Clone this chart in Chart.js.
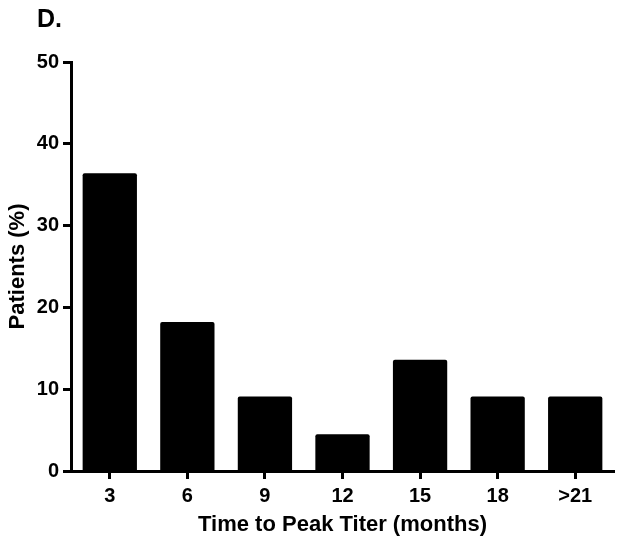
<!DOCTYPE html>
<html>
<head>
    <title>Time to Peak Titer</title>
    <script src="https://cdn.jsdelivr.net/npm/chart.js"></script>
    <style>
        html, body { margin: 0; padding: 0; background: #fff; }
        #wrap { width: 624px; height: 545px; position: relative; }
    </style>
</head>
<body>
    <div id="wrap"><canvas id="myChart"></canvas></div>
    <script>
        // data (percent of patients)
        var categories = ['3', '6', '9', '12', '15', '18', '>21'];
        var patients = [36.4, 18.2, 9.1, 4.5, 13.6, 9.1, 9.1];
        var yTicks = [0, 10, 20, 30, 40, 50];
        var panelLabel = 'D.';
        var xTitle = 'Time to Peak Titer (months)';
        var yTitle = 'Patients (%)';

        var fam = "'Liberation Sans', Arial, Helvetica, sans-serif";

        // draws the "D." panel letter top left
        var panelPlugin = {
            id: 'panelLabel',
            afterDraw: function (chart) {
                var c = chart.ctx;
                c.save();
                c.fillStyle = '#000';
                c.font = 'bold 25px ' + fam;
                c.textBaseline = 'alphabetic';
                c.fillText(panelLabel, 37, 27);
                c.restore();
            }
        };

        var ctx = document.getElementById('myChart').getContext('2d');
        var myChart = new Chart(ctx, {
            type: 'bar',
            data: {
                labels: categories,
                datasets: [{
                    label: 'Patients',
                    data: patients,
                    backgroundColor: '#000',
                    borderWidth: 0,
                    borderRadius: 2,
                    barPercentage: 0.7,
                    categoryPercentage: 1.0
                }]
            },
            options: {
                responsive: true,
                maintainAspectRatio: false,
                animation: false,
                layout: { padding: { top: 62, right: 10, bottom: 0, left: 0 } },
                plugins: {
                    legend: { display: false },
                    tooltip: { enabled: false }
                },
                scales: {
                    x: {
                        offset: true,
                        grid: {
                            display: true,
                            drawOnChartArea: false,
                            drawTicks: true,
                            tickLength: 8,
                            tickWidth: 3,
                            tickColor: '#000',
                            offset: false
                        },
                        border: { display: true, width: 3, color: '#000' },
                        ticks: {
                            color: '#000',
                            padding: 5,
                            font: { family: fam, size: 20, weight: 'bold' }
                        },
                        title: {
                            display: true,
                            text: xTitle,
                            color: '#000',
                            padding: { top: 0, bottom: 7 },
                            font: { family: fam, size: 22, weight: 'bold' }
                        },
                        afterFit: function (scale) { scale.height = 74; }
                    },
                    y: {
                        min: yTicks[0],
                        max: yTicks[yTicks.length - 1],
                        afterBuildTicks: function (scale) {
                            scale.ticks = yTicks.map(function (v) { return { value: v }; });
                        },
                        grid: {
                            display: true,
                            drawOnChartArea: false,
                            drawTicks: true,
                            tickLength: 8,
                            tickWidth: 3,
                            tickColor: '#000'
                        },
                        border: { display: true, width: 3, color: '#000' },
                        ticks: {
                            color: '#000',
                            padding: 4,
                            font: { family: fam, size: 20, weight: 'bold' }
                        },
                        title: {
                            display: true,
                            text: yTitle,
                            color: '#000',
                            padding: { top: 5, bottom: 0 },
                            font: { family: fam, size: 22, weight: 'bold' }
                        },
                        afterFit: function (scale) { scale.width = 71; }
                    }
                }
            },
            plugins: [panelPlugin]
        });
    </script>
</body>
</html>
